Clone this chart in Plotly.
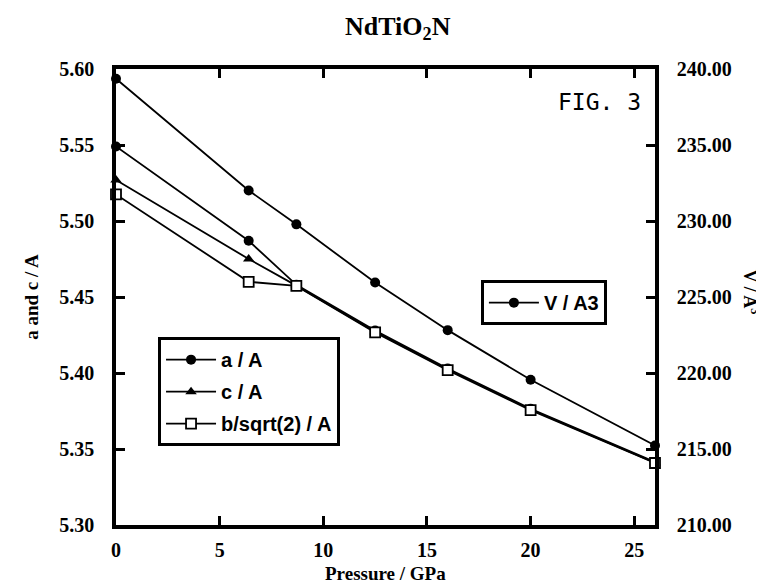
import plotly.graph_objects as go

# ---- data ----
pressure = [0, 6.4, 8.7, 12.5, 16, 20, 26]
a_vals = [5.549, 5.487, 5.458, 5.428, 5.403, 5.3765, 5.3415]
c_vals = [5.527, 5.475, 5.4575, 5.4272, 5.4023, 5.376, 5.341]
b_vals = [5.5175, 5.460, 5.4573, 5.4267, 5.4019, 5.3756, 5.3408]
v_vals = [239.36, 232.01, 229.78, 225.95, 222.82, 219.56, 215.23]

x_ticks = [0, 5, 10, 15, 20, 25]
left_ticks = [5.30, 5.35, 5.40, 5.45, 5.50, 5.55, 5.60]
right_ticks = [210, 215, 220, 225, 230, 235, 240]

SERIF = "Liberation Serif"
SANS = "Liberation Sans"
tickfont = dict(family=SERIF, size=20, color="black", weight="bold")
legfont = dict(family=SANS, size=20, color="black", weight="bold")

fig = go.Figure()

fig.add_trace(go.Scatter(
    x=pressure, y=v_vals, yaxis="y2", name="V / A3", legend="legend2",
    mode="lines+markers", line=dict(color="black", width=1.8),
    marker=dict(symbol="circle", size=10, color="black"), cliponaxis=False))

fig.add_trace(go.Scatter(
    x=pressure, y=a_vals, name="a / A", legendgroup="a",
    mode="lines+markers", line=dict(color="black", width=1.8),
    marker=dict(symbol="circle", size=10, color="black"), cliponaxis=False))

fig.add_trace(go.Scatter(
    x=pressure, y=c_vals, name="c / A", legendgroup="c",
    mode="lines+markers", line=dict(color="black", width=1.8),
    marker=dict(symbol="triangle-up", size=10, color="black"), cliponaxis=False))

fig.add_trace(go.Scatter(
    x=pressure, y=b_vals, name="b/sqrt(2) / A", legendgroup="b",
    mode="lines+markers", line=dict(color="black", width=1.8),
    marker=dict(symbol="square", size=10, color="white",
                line=dict(color="black", width=1.8)), cliponaxis=False))

axis_common = dict(
    ticks="inside", ticklen=9, tickwidth=3, tickcolor="black",
    showline=True, linecolor="black", linewidth=3.5,
    showgrid=False, zeroline=False, tickfont=tickfont,
)

fig.update_layout(
    width=764, height=584,
    paper_bgcolor="white", plot_bgcolor="white",
    margin=dict(l=108, r=117, t=61, b=67),
    showlegend=True,
    xaxis=dict(range=[0, 26], tickvals=x_ticks, ticktext=[str(t) for t in x_ticks],
               mirror="ticks", ticklabelstandoff=4, **axis_common),
    yaxis=dict(range=[5.30, 5.60], tickvals=left_ticks,
               ticktext=[f"{t:.2f}" for t in left_ticks],
               ticklabelstandoff=14, **axis_common),
    yaxis2=dict(range=[210, 240], tickvals=right_ticks,
                ticktext=[f"{t:.2f}" for t in right_ticks],
                overlaying="y", side="right", ticklabelstandoff=14, **axis_common),
    legend=dict(x=0.078, y=0.412, xanchor="left", yanchor="top",
                bordercolor="black", borderwidth=3, bgcolor="white",
                font=legfont, traceorder="grouped", tracegroupgap=3,
                itemwidth=50),
    legend2=dict(x=0.677, y=0.537, xanchor="left", yanchor="top",
                 bordercolor="black", borderwidth=3, bgcolor="white",
                 font=legfont, itemwidth=50),
)

annots = [
    dict(text="<b>NdTiO<sub>2</sub>N</b>", x=0.523, y=1.09, xref="paper", yref="paper",
         xanchor="center", yanchor="middle", showarrow=False,
         font=dict(family=SERIF, size=26, color="black")),
    dict(text="<b>a and c / A</b>", x=-0.158, y=0.5, xref="paper", yref="paper",
         textangle=-90, xanchor="center", yanchor="middle", showarrow=False,
         font=dict(family=SERIF, size=19, color="black")),
    dict(text="<b>V / A<sup>3</sup></b>", x=1.178, y=0.51, xref="paper", yref="paper",
         textangle=90, xanchor="center", yanchor="middle", showarrow=False,
         font=dict(family=SERIF, size=18, color="black")),
    dict(text="<b>Pressure / GPa</b>", x=0.5, y=-0.106, xref="paper", yref="paper",
         xanchor="center", yanchor="middle", showarrow=False,
         font=dict(family=SERIF, size=19, color="black")),
    dict(text="FIG. 3", x=0.978, y=0.928, xref="paper", yref="paper",
         xanchor="right", yanchor="middle", showarrow=False,
         font=dict(family="DejaVu Sans Mono", size=23, color="black")),
]
fig.update_layout(annotations=annots)

fig.write_html("out.html")
